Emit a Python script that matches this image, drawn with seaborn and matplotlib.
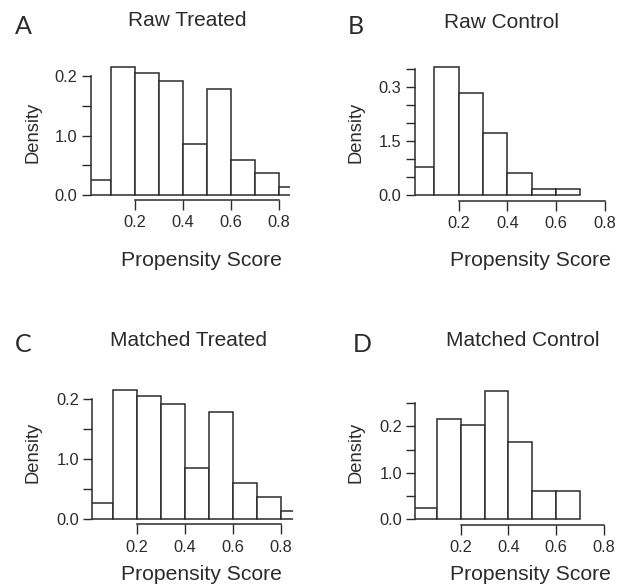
import numpy as np
import pandas as pd
import matplotlib
matplotlib.use("Agg")
import matplotlib.pyplot as plt
import seaborn as sns

sns.set_style("ticks")
plt.rcParams["font.family"] = ["Liberation Sans", "DejaVu Sans"]

# bin edges (propensity score) and bar heights
edges_treated = [0.0, 0.1, 0.2, 0.3, 0.4, 0.5, 0.6, 0.7, 0.8, 0.9]
raw_treated = [0.26, 2.15, 2.045, 1.916, 0.85, 1.785, 0.595, 0.363, 0.13]
matched_treated = [0.26, 2.15, 2.045, 1.916, 0.85, 1.785, 0.595, 0.363, 0.13]

edges_control = [0.0, 0.1, 0.2, 0.3, 0.4, 0.5, 0.6, 0.7]
raw_control = [0.776, 3.546, 2.844, 1.727, 0.628, 0.185, 0.185]
matched_control = [0.25, 2.156, 2.02, 2.765, 1.669, 0.60, 0.60]

xticks = [0.2, 0.4, 0.6, 0.8]
xtick_labels = ["0.2", "0.4", "0.6", "0.8"]

yticks_treated = [0.0, 0.5, 1.0, 1.5, 2.0]
ylabels_treated = ["0.0", "", "1.0", "", "0.2"]
yticks_raw_control = [0.0, 0.5, 1.0, 1.5, 2.0, 2.5, 3.0, 3.5]
ylabels_raw_control = ["0.0", "", "", "1.5", "", "", "0.3", ""]
yticks_matched_control = [0.0, 0.5, 1.0, 1.5, 2.0, 2.5]
ylabels_matched_control = ["0.0", "", "1.0", "", "0.2", ""]

W, H = 617, 587
fig = plt.figure(figsize=(W / 100, H / 100), dpi=100)
ink = "#2b2b2b"


def panel(rect_px, xlim, ylim, edges, heights, yticks, ylabels):
    left, right, top, bottom = rect_px
    ax = fig.add_axes([left / W, 1 - bottom / H, (right - left) / W, (bottom - top) / H])
    e = np.array(edges)
    df = pd.DataFrame({"score": (e[:-1] + e[1:]) / 2, "density": heights})
    sns.histplot(data=df, x="score", weights="density", bins=list(edges), stat="count", ax=ax,
                 color="white", edgecolor=ink, linewidth=1.1, alpha=1)
    ax.set_xlim(*xlim)
    ax.set_ylim(*ylim)
    ax.set_xlabel("")
    ax.set_ylabel("")
    for s in ["top", "right"]:
        ax.spines[s].set_visible(False)
    for s in ["left", "bottom"]:
        ax.spines[s].set_color(ink)
        ax.spines[s].set_linewidth(1.1)
    ax.spines["left"].set_bounds(yticks[0], yticks[-1])
    ax.spines["bottom"].set_bounds(xticks[0], xticks[-1])
    ax.set_xticks(xticks)
    ax.set_xticklabels(xtick_labels)
    ax.set_yticks(yticks)
    ax.set_yticklabels(ylabels)
    ax.tick_params(axis="x", length=7, width=1.0, color=ink, pad=4,
                   labelsize=11.8, labelcolor=ink)
    ax.tick_params(axis="y", length=6.5, width=1.0, color=ink, pad=3,
                   labelsize=11.8, labelcolor=ink)
    ax.patch.set_alpha(0)
    return ax


panel((90.7, 290, 60, 200), (0.015, 0.847), (-0.084, 2.27),
      edges_treated, raw_treated, yticks_treated, ylabels_treated)
panel((414.7, 616, 60, 201), (0.019, 0.847), (-0.158, 3.75),
      edges_control, raw_control, yticks_raw_control, ylabels_raw_control)
panel((92.3, 293.3, 385, 524.3), (0.012, 0.853), (-0.094, 2.236),
      edges_treated, matched_treated, yticks_treated, ylabels_treated)
panel((415.3, 615.4, 385, 525), (0.009, 0.85), (-0.123, 2.89),
      edges_control, matched_control, yticks_matched_control, ylabels_matched_control)


def txt(x, y, s, size, **kw):
    fig.text(x / W, 1 - y / H, s, fontsize=size, color=ink, ha="center", va="center", **kw)


# panel letters, titles and axis labels
for x, y, s in [(23, 26, "A"), (356, 26, "B"), (23, 345, "C"), (362, 345, "D")]:
    txt(x, y, s, 18, family=["Lato", "DejaVu Sans"], fontweight="normal")
for x, y, s in [(187, 21, "Raw Treated"), (501, 22, "Raw Control"),
                (188, 340, "Matched Treated"), (523, 340, "Matched Control")]:
    txt(x, y, s, 15)
for x, y in [(33, 132.5), (356.5, 132.5), (33, 452.5), (356.5, 452.5)]:
    txt(x, y, "Density", 13.2, rotation=90)
for x, y in [(201.7, 261), (530.5, 261), (201.7, 575), (530.5, 575)]:
    txt(x, y, "Propensity Score", 15.2)

fig.savefig("out.png", dpi=100)
